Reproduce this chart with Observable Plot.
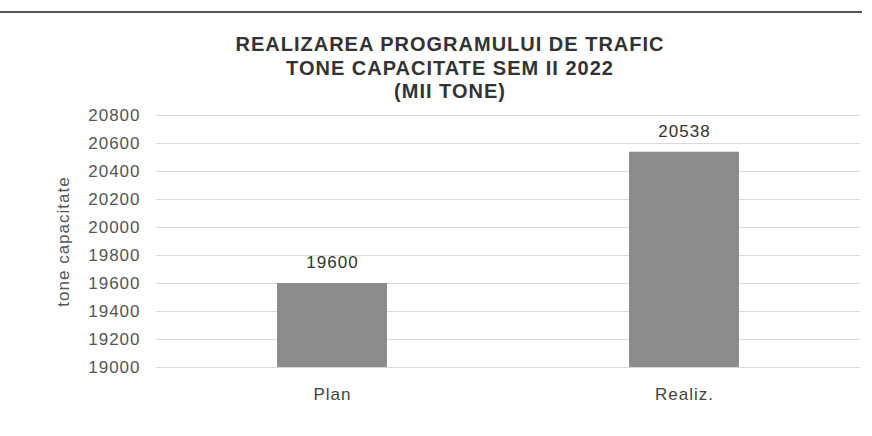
<!DOCTYPE html>
<html>
<head>
<meta charset="utf-8">
<script src="https://cdn.jsdelivr.net/npm/d3@7"></script>
<script src="https://cdn.jsdelivr.net/npm/@observablehq/plot@0.6"></script>
<style>
  html, body { margin: 0; padding: 0; background: #fff; }
  body { width: 872px; height: 436px; position: relative; overflow: hidden; font-family: "Liberation Sans", Arial, sans-serif; }
  #topline { position: absolute; left: 0; top: 11px; width: 862px; height: 2px; background: #555; }
  #title { height: 100px; box-sizing: border-box; padding-top: 33px; text-align: center; font-weight: bold; font-size: 20px; line-height: 23.5px; color: #333; letter-spacing: 1px; padding-left: 28px; }
  #chart svg { display: block; }
</style>
</head>
<body>
<div id="topline"></div>
<div id="title">REALIZAREA PROGRAMULUI DE TRAFIC<br>TONE CAPACITATE SEM II 2022<br>(MII TONE)</div>
<div id="chart"></div>
<script>
const categories = ["Plan", "Realiz."];
const values = [19600, 20538];
const yTicks = [19000, 19200, 19400, 19600, 19800, 20000, 20200, 20400, 20600, 20800];
const yLabel = "tone capacitate";

const data = categories.map((c, i) => ({category: c, value: values[i]}));
const yMin = yTicks[0];
const yMax = yTicks[yTicks.length - 1];

const chart = Plot.plot({
  width: 872,
  height: 336,
  marginTop: 15,
  marginBottom: 69,
  marginLeft: 156,
  marginRight: 12,
  style: {fontFamily: "'Liberation Sans', Arial, sans-serif", fontSize: "17px", letterSpacing: "1px", color: "#444", background: "#fff"},
  x: {domain: categories, paddingInner: 0.6875, paddingOuter: 0.34375, label: null},
  y: {domain: [yMin, yMax], label: null},
  marks: [
    Plot.gridY(yTicks, {stroke: "#d9d9d9", strokeOpacity: 1, strokeWidth: 1}),
    Plot.barY(data, {x: "category", y1: () => yMin, y2: "value", fill: "#8c8c8c"}),
    Plot.text(data, {x: "category", y: "value", text: d => String(d.value), dy: -21, fontSize: 17, fill: "#333"}),
    Plot.axisY({ticks: yTicks, tickSize: 0, tickPadding: 16, fontSize: 17, tickFormat: d => String(d), label: yLabel, labelAnchor: "center", labelArrow: "none", labelOffset: 100, fill: "#555"}),
    Plot.axisX({tickSize: 0, tickPadding: 20, fontSize: 17, fill: "#444", label: null})
  ]
});
document.getElementById("chart").appendChild(chart);
</script>
</body>
</html>
